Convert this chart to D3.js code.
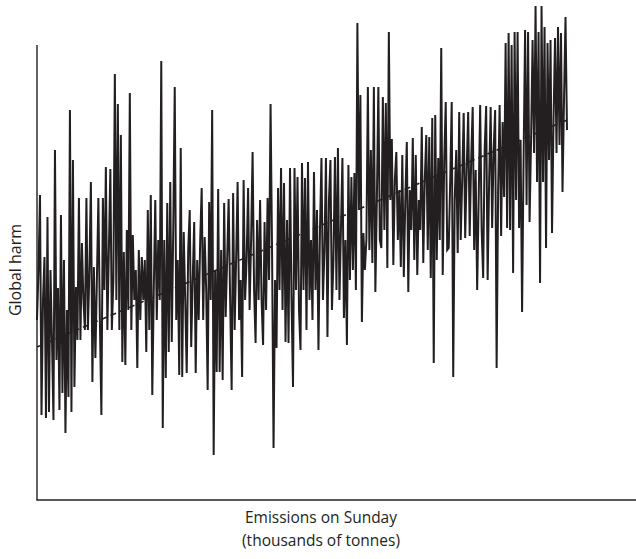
<!DOCTYPE html>
<html>
<head>
<meta charset="utf-8">
<script src="https://cdn.jsdelivr.net/npm/d3@7"></script>
<style>
  body { margin: 0; background: #fff; }
  text { font-family: "Open Sans", "Noto Sans", sans-serif; fill: #231f20; }
</style>
</head>
<body>
<svg id="chart" width="636" height="559"></svg>
<script>
// harm readings, one per emissions step, left to right (arbitrary units, 0 = x axis)
const harm = [
  180,230,305,85,200,243,82,283,88,230,
  160,80,350,140,212,90,285,107,240,67,
  190,103,390,88,340,113,213,160,302,160,
  257,200,170,302,170,230,318,118,233,142,
  220,302,180,85,302,210,333,170,250,331,
  170,220,426,200,396,170,365,138,248,135,
  270,190,407,170,265,200,230,132,250,180,
  243,200,240,148,290,170,305,105,210,300,
  180,260,200,439,72,260,122,297,148,318,
  158,270,413,180,240,125,352,123,268,200,
  127,250,290,153,220,278,127,240,180,260,
  312,180,263,210,110,298,200,390,45,230,
  128,311,128,250,120,297,183,240,301,200,
  110,307,170,240,318,180,220,123,320,200,
  240,312,190,260,348,210,157,280,200,300,
  200,155,278,190,302,220,396,250,52,220,
  152,312,210,332,190,317,158,280,157,332,
  200,113,332,210,323,190,150,337,210,322,
  170,338,200,260,180,328,210,290,150,270,
  342,200,250,342,163,300,340,190,240,343,
  210,352,200,270,342,182,260,155,335,220,
  323,230,327,210,477,290,405,178,267,230,
  260,413,250,350,237,413,208,300,413,260,
  252,403,270,397,232,468,300,361,235,320,
  348,260,310,233,345,223,300,358,208,310,
  270,362,240,345,225,300,270,373,237,320,
  365,250,363,222,382,137,385,240,342,260,
  452,225,340,398,250,252,320,398,123,300,
  350,247,388,260,320,387,262,330,388,264,
  340,393,250,330,210,300,395,270,222,350,
  394,220,320,393,272,350,390,132,310,395,
  264,378,303,457,272,467,270,455,227,468,
  300,468,272,360,188,340,470,295,468,278,
  360,460,347,494,318,468,217,494,318,473,
  252,457,340,460,267,380,462,347,473,355,
  467,308,400,483,370
];

// dashed fitted trend, harm at first and last emissions step
const trendHarm = [153, 380];

const yLabel = "Global harm";
const xLabel = ["Emissions on Sunday", "(thousands of tonnes)"];

const svg = d3.select("#chart");
const ink = "#231f20";

const x = d3.scaleLinear()
  .domain([0, harm.length - 1])
  .range([37, 567]);

const y = d3.scaleLinear()
  .domain([0, 500])
  .range([500, 0]);

const line = d3.line()
  .x((d, i) => x(i))
  .y(d => y(d));

svg.append("line")
  .attr("x1", x(0))
  .attr("y1", y(trendHarm[0]))
  .attr("x2", x(harm.length - 1))
  .attr("y2", y(trendHarm[1]))
  .attr("stroke", ink)
  .attr("stroke-width", 1.6)
  .attr("stroke-dasharray", "6,4");

svg.append("path")
  .datum(harm)
  .attr("d", line)
  .attr("fill", "none")
  .attr("stroke", ink)
  .attr("stroke-width", 2)
  .attr("stroke-linejoin", "miter");

// axes: plain lines, no ticks
svg.append("line")
  .attr("x1", 37).attr("y1", 45)
  .attr("x2", 37).attr("y2", y(0))
  .attr("stroke", ink).attr("stroke-width", 1.4);

svg.append("line")
  .attr("x1", 36.3).attr("y1", y(0))
  .attr("x2", 636).attr("y2", y(0))
  .attr("stroke", ink).attr("stroke-width", 1.4);

svg.append("text")
  .attr("transform", "translate(21,270) rotate(-90)")
  .attr("text-anchor", "middle")
  .attr("font-size", 16)
  .text(yLabel);

svg.selectAll("text.xlab")
  .data(xLabel)
  .enter()
  .append("text")
  .attr("class", "xlab")
  .attr("x", 321)
  .attr("y", (d, i) => 523 + i * 23)
  .attr("text-anchor", "middle")
  .attr("font-size", 15.5)
  .text(d => d);
</script>
</body>
</html>
